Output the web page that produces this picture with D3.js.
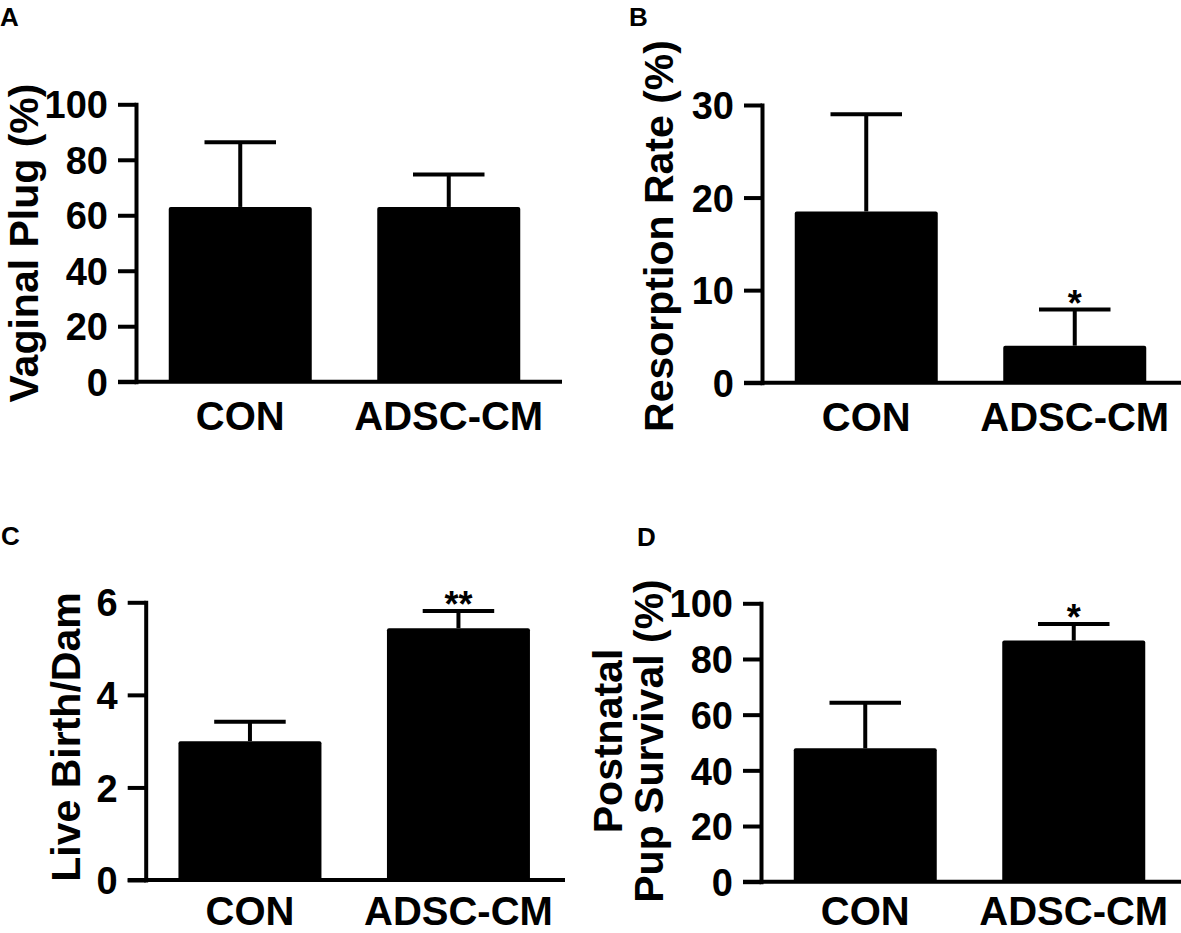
<!DOCTYPE html>
<html>
<head>
<meta charset="utf-8">
<script src="https://cdn.jsdelivr.net/npm/d3@7"></script>
<style>
  body { margin: 0; background: #fff; }
  text { font-family: "Liberation Sans", Arial, sans-serif; font-weight: bold; fill: #000; }
</style>
</head>
<body>
<script>
// groups on the x axis
var categories = ["CON", "ADSC-CM"];

// A: vaginal plug (%)
var plugMean = [63.0, 63.0];
var plugSem = [23.3, 11.7];
var plugTicks = [0, 20, 40, 60, 80, 100];
var plugStars = ["", ""];

// B: resorption rate (%)
var resorptionMean = [18.5, 4.0];
var resorptionSem = [10.5, 3.9];
var resorptionTicks = [0, 10, 20, 30];
var resorptionStars = ["", "*"];

// C: live birth / dam
var birthMean = [3.0, 5.44];
var birthSem = [0.42, 0.37];
var birthTicks = [0, 2, 4, 6];
var birthStars = ["", "**"];

// D: postnatal pup survival (%)
var survivalMean = [47.9, 86.6];
var survivalSem = [16.4, 6.0];
var survivalTicks = [0, 20, 40, 60, 80, 100];
var survivalStars = ["", "*"];

var svg = d3.select("body").append("svg")
    .attr("width", 1181)
    .attr("height", 933);

function drawPanel(p)
{
    var g = svg.append("g");
    var step = 208.5, barW = 143;

    var y = d3.scaleLinear()
        .domain([0, d3.max(p.ticks)])
        .range([p.bottom, p.top]);

    var x = d3.scaleBand()
        .domain(categories)
        .range([p.axisX, p.axisX + 2 * step])
        .paddingInner(1 - barW / step)
        .paddingOuter((1 - barW / step) / 2);

    // x axis line (runs on from the zero tick)
    g.append("line")
        .attr("x1", p.axisX - 18).attr("x2", p.xEnd)
        .attr("y1", y(0)).attr("y2", y(0))
        .attr("stroke", "#000").attr("stroke-width", 4);

    // y axis
    var yAxis = g.append("g")
        .attr("transform", "translate(" + p.axisX + ",0)")
        .call(d3.axisLeft(y).tickValues(p.ticks).tickFormat(d3.format("d"))
            .tickSize(18).tickSizeOuter(0).tickPadding(10));
    yAxis.select(".domain").attr("stroke-width", 4).attr("stroke-linecap", "square");
    yAxis.selectAll(".tick line").attr("stroke-width", 4);
    yAxis.selectAll(".tick text").style("font-size", "38px").attr("dy", "0.36em");

    // category labels
    var xAxis = g.append("g")
        .attr("transform", "translate(0," + y(0) + ")")
        .call(d3.axisBottom(x).tickSize(0).tickPadding(p.labelPad));
    xAxis.select(".domain").remove();
    xAxis.selectAll(".tick text").style("font-size", "40px");

    var rows = categories.map(function(c, i) {
        return {cat: c, mean: p.mean[i], sem: p.sem[i], star: p.stars[i]};
    });

    // bars
    g.selectAll("rect.bar").data(rows).enter().append("rect")
        .attr("class", "bar")
        .attr("x", function(d) { return x(d.cat); })
        .attr("width", x.bandwidth())
        .attr("y", function(d) { return y(d.mean); })
        .attr("height", function(d) { return y(0) - y(d.mean); })
        .attr("rx", 2)
        .attr("fill", "#000");

    // error bars (upper only)
    var cx = function(d) { return x(d.cat) + x.bandwidth() / 2; };
    g.selectAll("line.stem").data(rows).enter().append("line")
        .attr("class", "stem")
        .attr("x1", cx).attr("x2", cx)
        .attr("y1", function(d) { return y(d.mean); })
        .attr("y2", function(d) { return y(d.mean + d.sem); })
        .attr("stroke", "#000").attr("stroke-width", 4);
    g.selectAll("line.cap").data(rows).enter().append("line")
        .attr("class", "cap")
        .attr("x1", function(d) { return cx(d) - x.bandwidth() / 4; })
        .attr("x2", function(d) { return cx(d) + x.bandwidth() / 4; })
        .attr("y1", function(d) { return y(d.mean + d.sem); })
        .attr("y2", function(d) { return y(d.mean + d.sem); })
        .attr("stroke", "#000").attr("stroke-width", 4);

    // significance stars
    g.selectAll("text.star").data(rows.filter(function(d) { return d.star; })).enter().append("text")
        .attr("class", "star")
        .attr("x", cx)
        .attr("y", function(d) { return y(d.mean + d.sem) + 6; })
        .attr("text-anchor", "middle")
        .style("font-size", "36px")
        .text(function(d) { return d.star; });

    // y title
    var title = g.append("text")
        .attr("transform", "translate(" + p.titleX + "," + p.titleY + ") rotate(-90)")
        .attr("text-anchor", "middle")
        .style("font-size", "41px");
    p.title.forEach(function(line, i) {
        title.append("tspan")
            .attr("x", 0)
            .attr("y", (i - p.title.length + 1) * 41)
            .text(line);
    });

    // panel letter
    g.append("text")
        .attr("x", p.letterX).attr("y", p.letterY)
        .style("font-size", "26px")
        .text(p.letter);
}

drawPanel({letter: "A", letterX: 0, letterY: 26,
    mean: plugMean, sem: plugSem, ticks: plugTicks, stars: plugStars,
    axisX: 136, top: 104.3, bottom: 381.7, xEnd: 562, labelPad: 20,
    title: ["Vaginal Plug (%)"], titleX: 38, titleY: 243});

drawPanel({letter: "B", letterX: 629, letterY: 26,
    mean: resorptionMean, sem: resorptionSem, ticks: resorptionTicks, stars: resorptionStars,
    axisX: 762, top: 105, bottom: 382.7, xEnd: 1181, labelPad: 20,
    title: ["Resorption Rate (%)"], titleX: 673, titleY: 236});

drawPanel({letter: "C", letterX: 1, letterY: 545,
    mean: birthMean, sem: birthSem, ticks: birthTicks, stars: birthStars,
    axisX: 145.7, top: 602.3, bottom: 880, xEnd: 565, labelPad: 17,
    title: ["Live Birth/Dam"], titleX: 80, titleY: 737});

drawPanel({letter: "D", letterX: 637, letterY: 546,
    mean: survivalMean, sem: survivalSem, ticks: survivalTicks, stars: survivalStars,
    axisX: 761, top: 603.3, bottom: 881.7, xEnd: 1181, labelPad: 15,
    title: ["Postnatal", "Pup Survival (%)"], titleX: 663, titleY: 741});
</script>
</body>
</html>
